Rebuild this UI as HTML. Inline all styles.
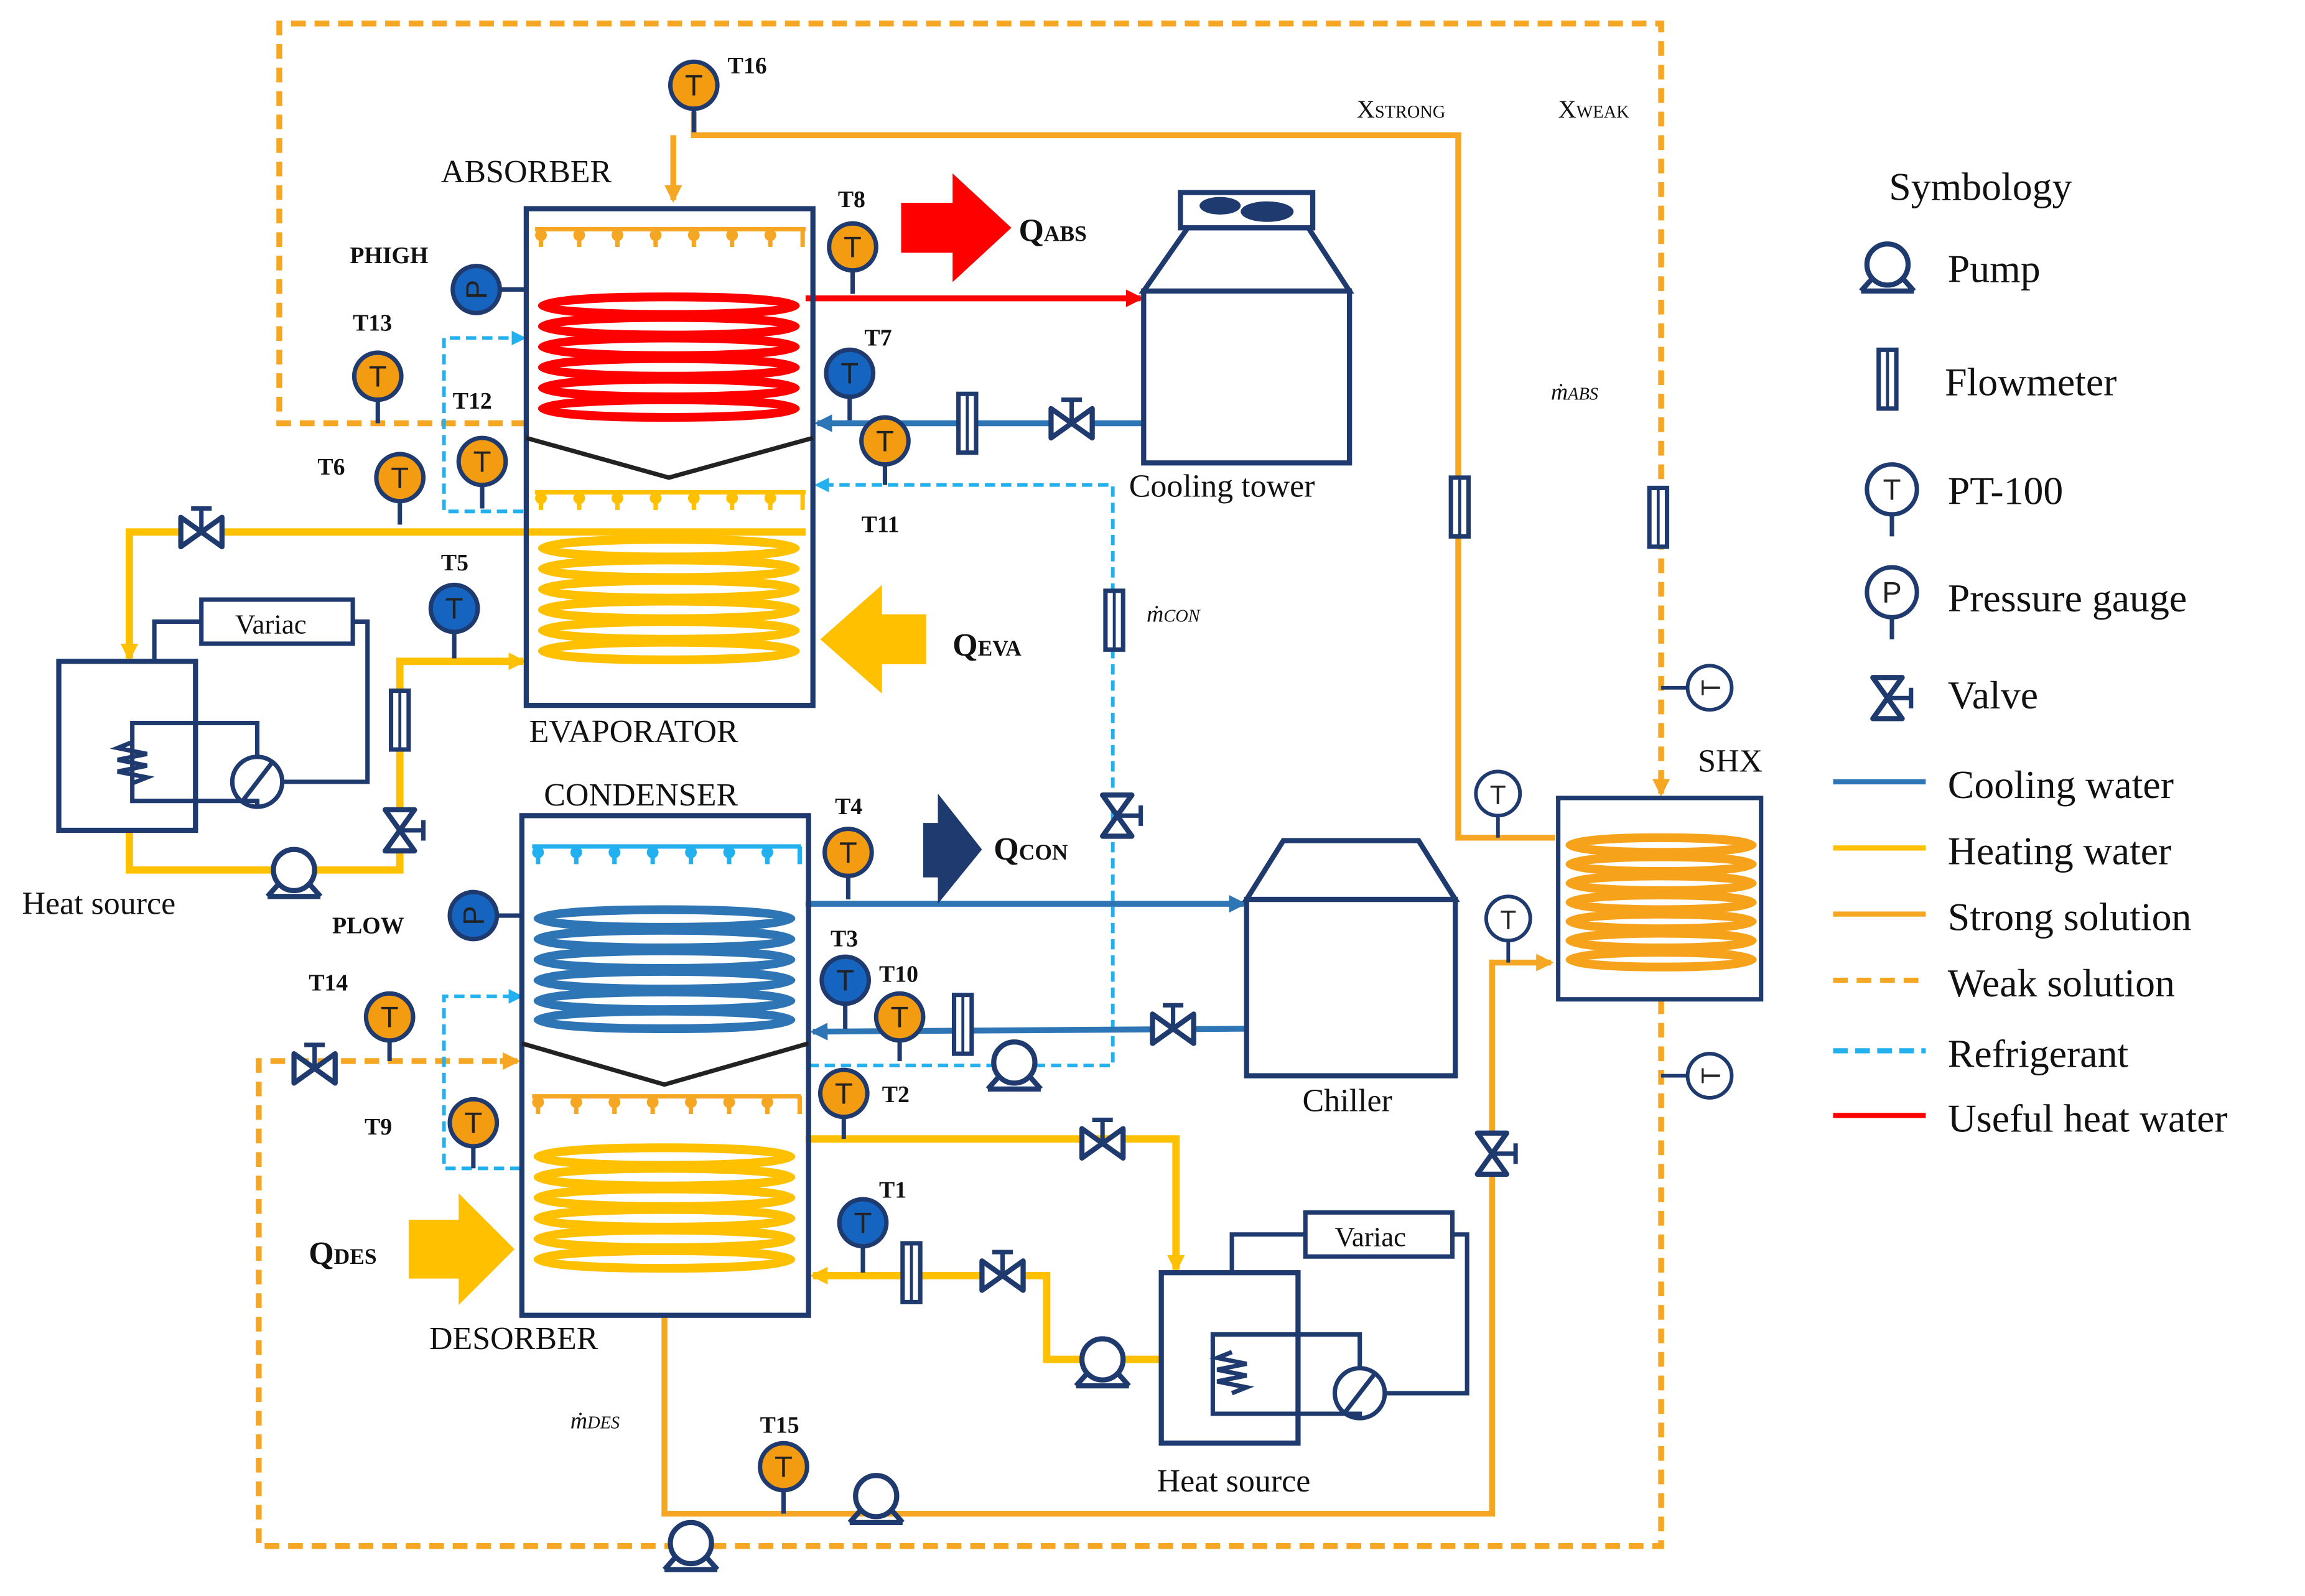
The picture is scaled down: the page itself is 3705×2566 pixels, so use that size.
<!DOCTYPE html>
<html><head><meta charset="utf-8"><style>html,body{margin:0;padding:0;background:#fff}svg{display:block}</style></head>
<body>
<svg width="3705" height="2566" viewBox="0 0 1568 1086" preserveAspectRatio="none" xmlns="http://www.w3.org/2000/svg" font-family="Liberation Serif, serif">
<defs>
<marker id="ao" markerWidth="8" markerHeight="8" refX="6" refY="4" orient="auto" markerUnits="userSpaceOnUse"><path d="M0,0 L8,4 L0,8z" fill="#f5a623"/></marker>
<marker id="ay" markerWidth="12" markerHeight="12" refX="10" refY="6" orient="auto" markerUnits="userSpaceOnUse"><path d="M0,0 L12,6 L0,12z" fill="#ffc000"/></marker>
<marker id="ab" markerWidth="12" markerHeight="12" refX="10" refY="6" orient="auto" markerUnits="userSpaceOnUse"><path d="M0,0 L12,6 L0,12z" fill="#2e75b6"/></marker>
<marker id="ar" markerWidth="12" markerHeight="12" refX="10" refY="6" orient="auto" markerUnits="userSpaceOnUse"><path d="M0,0 L12,6 L0,12z" fill="#ff0000"/></marker>
<marker id="ac" markerWidth="10" markerHeight="10" refX="8" refY="5" orient="auto" markerUnits="userSpaceOnUse"><path d="M0,0 L10,5 L0,10z" fill="#22b0ee"/></marker>
<marker id="ao2" markerWidth="12" markerHeight="12" refX="10" refY="6" orient="auto" markerUnits="userSpaceOnUse"><path d="M0,0 L12,6 L0,12z" fill="#f5a623"/></marker>
<g id="valve"><path d="M-14,-10 L14,10 L14,-10 L-14,10z" fill="#fff" stroke="#1f3a6e" stroke-width="3.5" stroke-linejoin="round"/><line x1="0" y1="0" x2="0" y2="-16" stroke="#1f3a6e" stroke-width="3"/><line x1="-7" y1="-16" x2="7" y2="-16" stroke="#1f3a6e" stroke-width="3"/></g>
<g id="fm"><rect x="-6" y="-20" width="12" height="40" fill="#fff" stroke="#1f3a6e" stroke-width="3"/><line x1="0" y1="-20" x2="0" y2="20" stroke="#1f3a6e" stroke-width="2"/></g>
<g id="pump"><circle cx="0" cy="0" r="14" fill="#fff" stroke="#1f3a6e" stroke-width="3.5"/><path d="M-18,18 L-10,9 M18,18 L10,9 M-18,18 L18,18" stroke="#1f3a6e" stroke-width="3.5" fill="none"/></g>
</defs>

<!-- weak solution dashed -->
<g fill="none" stroke="#f5a623" stroke-width="4" stroke-dasharray="10,6">
<path d="M358,288 L190,288 L190,16 L1130,16 L1130,535"/>
<path d="M1130,680 L1130,1052 L176,1052 L176,722 L350,722"/>
</g>
<path d="M1130,530 L1130,540" stroke="#f5a623" stroke-width="4" marker-end="url(#ao2)"/>
<path d="M340,722 L352,722" stroke="#f5a623" stroke-width="4" marker-end="url(#ao2)"/>
<path d="M180,288 L188,288" stroke="none"/>
<!-- strong solution -->
<g fill="none" stroke="#f5a623" stroke-width="4">
<path d="M472,76 L472,92 L992,92 L992,570 L1058,570"/>
<path d="M458,92 L458,136" marker-end="url(#ao2)"/>
<path d="M452,895 L452,1030 L1015,1030 L1015,655 L1055,655" marker-end="url(#ao2)"/>
</g>
<!-- refrigerant dashed -->
<g fill="none" stroke="#22b0ee" stroke-width="2.5" stroke-dasharray="7,4">
<path d="M550,725 L757,725 L757,330 L556,330"/>
<path d="M356,348 L302,348 L302,230 L354,230"/>
<path d="M354,795 L302,795 L302,678 L352,678"/>
</g>
<path d="M560,330 L556,330" stroke="#22b0ee" stroke-width="2" marker-end="url(#ac)"/>
<path d="M350,230 L356,230" stroke="#22b0ee" stroke-width="2" marker-end="url(#ac)"/>
<path d="M348,678 L354,678" stroke="#22b0ee" stroke-width="2" marker-end="url(#ac)"/>
<!-- red -->
<path d="M548,203 L776,203" stroke="#ff0000" stroke-width="4" marker-end="url(#ar)"/>
<!-- cooling water -->
<g stroke="#2e75b6" stroke-width="4" fill="none">
<path d="M778,288 L556,288" marker-end="url(#ab)"/>
<path d="M548,615 L846,615" marker-end="url(#ab)"/>
<path d="M848,700 L553,702" marker-end="url(#ab)"/>
</g>
<!-- heating water -->
<g stroke="#ffc000" stroke-width="5" fill="none">
<path d="M548,362 L88,362 L88,448" marker-end="url(#ay)"/>
<path d="M88,565 L88,592 L272,592 L272,450 L356,450" marker-end="url(#ay)"/>
<path d="M548,775 L800,775 L800,864" marker-end="url(#ay)"/>
<path d="M790,925 L712,925 L712,868 L553,868" marker-end="url(#ay)"/>
</g>

<!-- absorber/evaporator box -->
<rect x="358" y="142" width="195" height="338" fill="none" stroke="#1f3a6e" stroke-width="3.5"/>
<path d="M358,298 L455,325 L553,298" fill="none" stroke="#222" stroke-width="3"/>
<rect x="355" y="555" width="195" height="340" fill="none" stroke="#1f3a6e" stroke-width="3.5"/>
<path d="M355,710 L452,738 L550,710" fill="none" stroke="#222" stroke-width="3"/>

<!-- coils -->
<g fill="none" stroke-width="6">
<g stroke="#ff0000"><ellipse cx="455" cy="208" rx="86" ry="6"/><ellipse cx="455" cy="222" rx="86" ry="6"/><ellipse cx="455" cy="236" rx="86" ry="6"/><ellipse cx="455" cy="250" rx="86" ry="6"/><ellipse cx="455" cy="264" rx="86" ry="6"/><ellipse cx="455" cy="278" rx="86" ry="6"/></g>
<g stroke="#ffc000"><ellipse cx="455" cy="373" rx="86" ry="6"/><ellipse cx="455" cy="387" rx="86" ry="6"/><ellipse cx="455" cy="401" rx="86" ry="6"/><ellipse cx="455" cy="415" rx="86" ry="6"/><ellipse cx="455" cy="429" rx="86" ry="6"/><ellipse cx="455" cy="443" rx="86" ry="6"/></g>
<g stroke="#2e75b6"><ellipse cx="452" cy="625" rx="86" ry="6"/><ellipse cx="452" cy="639" rx="86" ry="6"/><ellipse cx="452" cy="653" rx="86" ry="6"/><ellipse cx="452" cy="667" rx="86" ry="6"/><ellipse cx="452" cy="681" rx="86" ry="6"/><ellipse cx="452" cy="694" rx="86" ry="6"/></g>
<g stroke="#ffc000"><ellipse cx="452" cy="787" rx="86" ry="6"/><ellipse cx="452" cy="801" rx="86" ry="6"/><ellipse cx="452" cy="815" rx="86" ry="6"/><ellipse cx="452" cy="829" rx="86" ry="6"/><ellipse cx="452" cy="843" rx="86" ry="6"/><ellipse cx="452" cy="857" rx="86" ry="6"/></g>
<g stroke="#f7a21b"><ellipse cx="1130" cy="575" rx="62" ry="5"/><ellipse cx="1130" cy="588" rx="62" ry="5"/><ellipse cx="1130" cy="601" rx="62" ry="5"/><ellipse cx="1130" cy="614" rx="62" ry="5"/><ellipse cx="1130" cy="627" rx="62" ry="5"/><ellipse cx="1130" cy="640" rx="62" ry="5"/><ellipse cx="1130" cy="653" rx="62" ry="5"/></g>
</g>
<!-- sprays -->
<g stroke-width="3">
<g stroke="#f5a623" fill="#f5a623"><line x1="364" y1="156" x2="548" y2="156"/>
<path d="M368,156v12 M394,156v12 M420,156v12 M446,156v12 M472,156v12 M498,156v12 M524,156v12 M546,156v12"/></g>
<g stroke="#ffc000"><line x1="364" y1="335" x2="548" y2="335"/>
<path d="M368,335v12 M394,335v12 M420,335v12 M446,335v12 M472,335v12 M498,335v12 M524,335v12 M546,335v12"/></g>
<g stroke="#22b0ee"><line x1="362" y1="576" x2="545" y2="576"/>
<path d="M366,576v12 M392,576v12 M418,576v12 M444,576v12 M470,576v12 M496,576v12 M522,576v12 M544,576v12"/></g>
<g stroke="#f5a623"><line x1="362" y1="746" x2="545" y2="746"/>
<path d="M366,746v12 M392,746v12 M418,746v12 M444,746v12 M470,746v12 M496,746v12 M522,746v12 M544,746v12"/></g>
</g>
<g>
<g fill="#f5a623"><circle cx="368" cy="160" r="4"/><circle cx="394" cy="160" r="4"/><circle cx="420" cy="160" r="4"/><circle cx="446" cy="160" r="4"/><circle cx="472" cy="160" r="4"/><circle cx="498" cy="160" r="4"/><circle cx="524" cy="160" r="4"/></g>
<g fill="#ffc000"><circle cx="368" cy="339" r="4"/><circle cx="394" cy="339" r="4"/><circle cx="420" cy="339" r="4"/><circle cx="446" cy="339" r="4"/><circle cx="472" cy="339" r="4"/><circle cx="498" cy="339" r="4"/><circle cx="524" cy="339" r="4"/></g>
<g fill="#22b0ee"><circle cx="366" cy="580" r="4"/><circle cx="392" cy="580" r="4"/><circle cx="418" cy="580" r="4"/><circle cx="444" cy="580" r="4"/><circle cx="470" cy="580" r="4"/><circle cx="496" cy="580" r="4"/><circle cx="522" cy="580" r="4"/></g>
<g fill="#f5a623"><circle cx="366" cy="750" r="4"/><circle cx="392" cy="750" r="4"/><circle cx="418" cy="750" r="4"/><circle cx="444" cy="750" r="4"/><circle cx="470" cy="750" r="4"/><circle cx="496" cy="750" r="4"/><circle cx="522" cy="750" r="4"/></g>
</g>

<!-- SHX -->
<rect x="1060" y="543" width="138" height="137" fill="none" stroke="#1f3a6e" stroke-width="3"/>
<!-- cooling tower -->
<g fill="#fff" stroke="#1f3a6e" stroke-width="3.5">
<rect x="778" y="198" width="140" height="117"/>
<path d="M778,198 L808,155 L890,155 L918,198z"/>
<rect x="803" y="131" width="90" height="24"/>
</g>
<ellipse cx="830" cy="140" rx="14" ry="6" fill="#1f3a6e"/><ellipse cx="862" cy="144" rx="18" ry="7" fill="#1f3a6e"/>
<!-- chiller -->
<g fill="#fff" stroke="#1f3a6e" stroke-width="3.5">
<rect x="848" y="612" width="142" height="120"/>
<path d="M848,612 L873,572 L965,572 L990,612z"/>
</g>
<!-- heat sources -->
<g fill="none" stroke="#1f3a6e" stroke-width="3">
<rect x="40" y="450" width="93" height="115" stroke-width="3.5"/>
<rect x="137" y="408" width="103" height="30"/>
<path d="M105,450 L105,423 L137,423 M240,423 L250,423 L250,532 L193,532"/>
<path d="M133,492 L90,492 L90,545 L133,545"/><path d="M133,492 L175,492 L175,515 M175,550 L175,545 L133,545"/>
<circle cx="175" cy="532" r="17"/><line x1="165" y1="545" x2="185" y2="519"/>
<path d="M90,505 L80,509 L100,513 L80,517 L100,521 L80,525 L100,529 L90,533"/>
<rect x="790" y="866" width="93" height="116" stroke-width="3.5"/>
<rect x="888" y="825" width="100" height="30"/>
<path d="M838,866 L838,840 L888,840 M988,840 L998,840 L998,948 L942,948"/>
<path d="M883,908 L825,908 L825,962 L883,962 M883,908 L925,908 L925,930 M925,966 L925,962 L883,962"/>
<circle cx="925" cy="948" r="17"/><line x1="915" y1="961" x2="935" y2="935"/>
<path d="M838,920 L828,924 L848,928 L828,932 L848,936 L828,940 L848,944 L838,948"/>
</g>
<!-- valves, flowmeters, pumps -->
<use href="#valve" x="137" y="362"/>
<use href="#valve" x="729" y="288"/>
<use href="#valve" x="798" y="700"/>
<use href="#valve" x="750" y="778"/>
<use href="#valve" x="682" y="868"/>
<use href="#valve" transform="translate(272,565) rotate(90)"/>
<use href="#valve" transform="translate(760,555) rotate(90)"/>
<use href="#valve" transform="translate(1015,785) rotate(90)"/>
<use href="#valve" x="214" y="727"/>
<use href="#fm" x="658" y="288"/>
<use href="#fm" x="655" y="697"/>
<use href="#fm" x="620" y="866"/>
<use href="#fm" x="272" y="490"/>
<use href="#fm" x="758" y="422"/>
<use href="#fm" x="993" y="345"/>
<use href="#fm" x="1128" y="352"/>
<use href="#pump" x="200" y="592"/>
<use href="#pump" x="690" y="723"/>
<use href="#pump" x="750" y="925"/>
<use href="#pump" x="596" y="1018"/>
<use href="#pump" x="470" y="1050"/>

<!-- big arrows -->
<path d="M613,138 L648,138 L648,118 L688,155 L648,192 L648,172 L613,172z" fill="#ff0000"/>
<path d="M628,560 L638,560 L638,540 L668,578 L638,615 L638,597 L628,597z" fill="#1f3a6e"/>
<path d="M630,418 L600,418 L600,398 L558,435 L600,472 L600,452 L630,452z" fill="#ffc000"/>
<path d="M278,830 L312,830 L312,812 L350,850 L312,888 L312,870 L278,870z" fill="#ffc000"/>

<!-- sensors -->
<g stroke="#1f3a6e" stroke-width="3">
<g fill="#f39c12"><line x1="472" y1="58" x2="472" y2="90"/><circle cx="472" cy="58" r="16"/>
<line x1="580" y1="168" x2="580" y2="200"/><circle cx="580" cy="168" r="16"/>
<line x1="257" y1="256" x2="257" y2="288"/><circle cx="257" cy="256" r="16"/>
<line x1="328" y1="314" x2="328" y2="346"/><circle cx="328" cy="314" r="16"/>
<line x1="272" y1="325" x2="272" y2="357"/><circle cx="272" cy="325" r="16"/>
<line x1="602" y1="300" x2="602" y2="330"/><circle cx="602" cy="300" r="16"/>
<line x1="577" y1="580" x2="577" y2="612"/><circle cx="577" cy="580" r="16"/>
<line x1="612" y1="692" x2="612" y2="722"/><circle cx="612" cy="692" r="16"/>
<line x1="265" y1="692" x2="265" y2="722"/><circle cx="265" cy="692" r="16"/>
<line x1="322" y1="764" x2="322" y2="795"/><circle cx="322" cy="764" r="16"/>
<line x1="574" y1="744" x2="574" y2="775"/><circle cx="574" cy="744" r="16"/>
<line x1="533" y1="998" x2="533" y2="1030"/><circle cx="533" cy="998" r="16"/></g>
<g fill="#1565c0"><line x1="578" y1="254" x2="578" y2="286"/><circle cx="578" cy="254" r="16"/>
<line x1="309" y1="414" x2="309" y2="448"/><circle cx="309" cy="414" r="16"/>
<line x1="575" y1="667" x2="575" y2="700"/><circle cx="575" cy="667" r="16"/>
<line x1="587" y1="832" x2="587" y2="866"/><circle cx="587" cy="832" r="16"/>
<line x1="341" y1="197" x2="358" y2="197"/><circle cx="324" cy="197" r="16"/>
<line x1="339" y1="623" x2="355" y2="623"/><circle cx="322" cy="623" r="16"/></g>
<g fill="#fff" stroke-width="2.5"><line x1="1019" y1="556" x2="1019" y2="570"/><circle cx="1019" cy="540" r="15"/>
<line x1="1026" y1="641" x2="1026" y2="655"/><circle cx="1026" cy="625" r="15"/>
<line x1="1130" y1="468" x2="1148" y2="468"/><circle cx="1163" cy="468" r="15"/>
<line x1="1130" y1="732" x2="1148" y2="732"/><circle cx="1163" cy="732" r="15"/></g>
</g>
<g font-family="Liberation Sans, sans-serif" font-size="20" fill="#222" text-anchor="middle">
<text x="472" y="65">T</text><text x="580" y="175">T</text><text x="257" y="263">T</text><text x="328" y="321">T</text><text x="272" y="332">T</text><text x="602" y="307">T</text><text x="577" y="587">T</text><text x="612" y="699">T</text><text x="265" y="699">T</text><text x="322" y="771">T</text><text x="574" y="751">T</text><text x="533" y="1005">T</text>
<text x="578" y="261">T</text><text x="309" y="421">T</text><text x="575" y="674">T</text><text x="587" y="839">T</text>
<text transform="translate(331,197) rotate(-90)">P</text><text transform="translate(329,623) rotate(-90)">P</text>
<text x="1019" y="547" font-size="18">T</text><text x="1026" y="632" font-size="18">T</text>
<text transform="translate(1170,468) rotate(-90)" font-size="18">T</text><text transform="translate(1170,732) rotate(-90)" font-size="18">T</text>
</g>

<!-- labels -->
<g font-size="16" font-weight="bold" fill="#111">
<text x="495" y="50">T16</text><text x="570" y="141">T8</text><text x="238" y="179">PHIGH</text><text x="240" y="225">T13</text>
<text x="588" y="235">T7</text><text x="308" y="278">T12</text><text x="216" y="323">T6</text><text x="586" y="362">T11</text>
<text x="300" y="388">T5</text><text x="568" y="554">T4</text><text x="226" y="635">PLOW</text><text x="565" y="644">T3</text>
<text x="598" y="668">T10</text><text x="210" y="674">T14</text><text x="248" y="772">T9</text><text x="600" y="750">T2</text>
<text x="598" y="815">T1</text><text x="517" y="975">T15</text>
</g>
<g font-size="22" fill="#111">
<text x="300" y="124">ABSORBER</text><text x="360" y="505">EVAPORATOR</text><text x="370" y="548">CONDENSER</text><text x="292" y="918">DESORBER</text>
<text x="768" y="338">Cooling tower</text><text x="886" y="756">Chiller</text><text x="15" y="622">Heat source</text><text x="787" y="1015">Heat source</text>
<text x="1155" y="525">SHX</text>
<text x="160" y="431" font-size="19">Variac</text><text x="908" y="848" font-size="19">Variac</text>
<text x="923" y="80" font-size="17">X<tspan font-size="12">STRONG</tspan></text>
<text x="1060" y="80" font-size="17">X<tspan font-size="12">WEAK</tspan></text>
<text x="1055" y="272" font-size="16" font-style="italic">ṁ<tspan font-size="12">ABS</tspan></text>
<text x="780" y="423" font-size="16" font-style="italic">ṁ<tspan font-size="12">CON</tspan></text>
<text x="388" y="972" font-size="16" font-style="italic">ṁ<tspan font-size="12">DES</tspan></text>
<g font-weight="bold"><text x="693" y="164">Q<tspan font-size="15">ABS</tspan></text><text x="676" y="585">Q<tspan font-size="15">CON</tspan></text>
<text x="648" y="446">Q<tspan font-size="15">EVA</tspan></text><text x="210" y="860">Q<tspan font-size="15">DES</tspan></text></g>
</g>

<!-- legend -->
<g font-size="27" fill="#111">
<text x="1285" y="136">Symbology</text>
<text x="1325" y="192">Pump</text><text x="1323" y="269">Flowmeter</text><text x="1325" y="343">PT-100</text>
<text x="1325" y="416">Pressure gauge</text><text x="1325" y="482">Valve</text>
<text x="1325" y="543">Cooling water</text><text x="1325" y="588">Heating water</text><text x="1325" y="633">Strong solution</text>
<text x="1325" y="678">Weak solution</text><text x="1325" y="726">Refrigerant</text><text x="1325" y="770">Useful heat water</text>
</g>
<use href="#pump" x="1284" y="180"/>
<use href="#fm" x="1284" y="258"/>
<g stroke="#1f3a6e" stroke-width="3" fill="#fff">
<line x1="1287" y1="350" x2="1287" y2="365"/><circle cx="1287" cy="333" r="17"/>
<line x1="1287" y1="420" x2="1287" y2="435"/><circle cx="1287" cy="403" r="17"/>
</g>
<g font-family="Liberation Sans, sans-serif" font-size="20" fill="#222" text-anchor="middle"><text x="1287" y="340">T</text><text x="1287" y="410">P</text></g>
<use href="#valve" transform="translate(1284,475) rotate(90)"/>
<g stroke-width="3.5">
<line x1="1247" y1="532" x2="1310" y2="532" stroke="#2e75b6"/>
<line x1="1247" y1="577" x2="1310" y2="577" stroke="#ffc000"/>
<line x1="1247" y1="622" x2="1310" y2="622" stroke="#f5a623"/>
<line x1="1247" y1="667" x2="1310" y2="667" stroke="#f5a623" stroke-dasharray="10,6"/>
<line x1="1247" y1="715" x2="1310" y2="715" stroke="#22b0ee" stroke-dasharray="10,5"/>
<line x1="1247" y1="759" x2="1310" y2="759" stroke="#ff0000"/>
</g>
</svg>
</body></html>
